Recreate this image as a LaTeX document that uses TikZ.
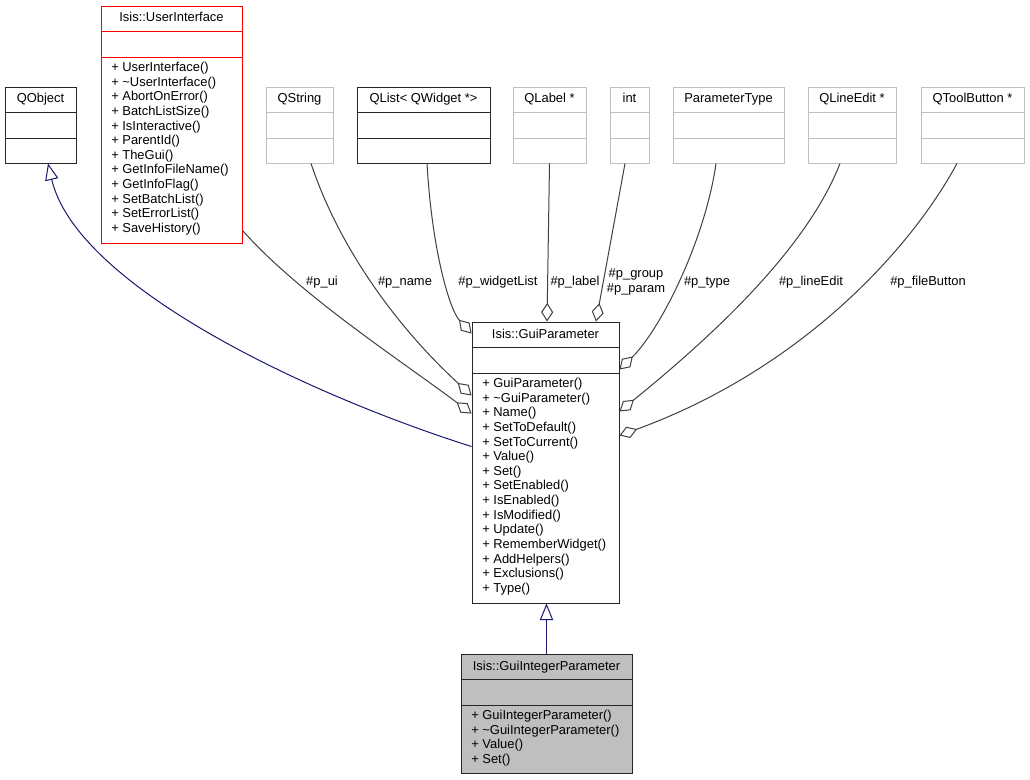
\documentclass[tikz,border=0pt]{standalone}
\usepackage{fontspec}
\setmainfont{Liberation Sans}
\usetikzlibrary{arrows.meta,calc,fit}

\definecolor{edgegray}{HTML}{404040}
\definecolor{boxgray}{HTML}{BFBFBF}
\definecolor{inhblue}{HTML}{191970}

% box of a class: name, style, left, top, right, bottom, title
\newcommand{\classbox}[7]{%
  \node[#2, inner sep=0pt, fit={(#3,#4) (#5,#6)}] (#1) {};
  \draw[#2] ({#3},{#4+25}) -- ({#5},{#4+25});
  \draw[#2] ({#3},{#4+51}) -- ({#5},{#4+51});
  \node[titletext] (#1-title) at ({(#3+#5)/2},{#4+16}) {#7};
}
% operations of a class: name, left, y of the lower line, list
\newcommand{\classops}[4]{%
  \foreach \op [count=\i] in {#4}
    \node[optext] (#1-op\i) at ({#2+10},{#3+14.5+(\i-1)*14.64}) {+ \op};
}

\begin{document}
\begin{tikzpicture}[x=0.75pt, y=-0.75pt,
    titletext/.style={anchor=base, inner sep=0pt, font=\fontsize{9.7}{11}\selectfont},
    optext/.style={anchor=base west, inner sep=0pt, font=\fontsize{9.7}{11}\selectfont},
    lbl/.style={inner sep=0pt, font=\fontsize{9.7}{11}\selectfont},
    boxblack/.style={draw=black!85, line width=0.7pt, fill=white},
    boxred/.style={draw=red, line width=0.7pt, fill=white},
    boxgrey/.style={draw=boxgray, line width=0.7pt, fill=white},
    boxfilled/.style={draw=black!85, line width=0.7pt, fill=boxgray},
    agg/.style={draw=edgegray, line width=0.75pt, -{Diamond[open, length=14pt, width=9pt]}},
    inherit/.style={draw=inhblue, line width=0.75pt, -{Triangle[open, length=12.5pt, width=10pt]}}]
  \fill[white] (0,0) rectangle (1030,780);
  \useasboundingbox (0,0) rectangle (1030,780);

  % top row
  \classbox{qobject}{boxblack}{5}{87}{76}{163}{QObject}
  \classbox{ui}{boxred}{101}{6}{242}{243}{Isis::UserInterface}
  \classops{ui}{101}{57}{UserInterface(), \textasciitilde UserInterface(), AbortOnError(),
    BatchListSize(), IsInteractive(), ParentId(), TheGui(), GetInfoFileName(),
    GetInfoFlag(), SetBatchList(), SetErrorList(), SaveHistory()}
  \classbox{qstring}{boxgrey}{266}{87}{333}{163}{QString}
  \classbox{qlist}{boxblack}{357}{87}{490}{163}{QList< QWidget *>}
  \classbox{qlabel}{boxgrey}{513}{87}{586}{163}{QLabel *}
  \classbox{int}{boxgrey}{610}{87}{649}{163}{int}
  \classbox{ptype}{boxgrey}{673}{87}{784}{163}{ParameterType}
  \classbox{lineedit}{boxgrey}{808}{87}{896}{163}{QLineEdit *}
  \classbox{toolbutton}{boxgrey}{921}{87}{1024}{163}{QToolButton *}

  % the parameter classes
  \classbox{gp}{boxblack}{472}{322}{619}{603}{Isis::GuiParameter}
  \classops{gp}{472}{373}{GuiParameter(), \textasciitilde GuiParameter(), Name(),
    SetToDefault(), SetToCurrent(), Value(), Set(), SetEnabled(), IsEnabled(),
    IsModified(), Update(), RememberWidget(), AddHelpers(), Exclusions(), Type()}
  \classbox{gi}{boxfilled}{461}{654}{632}{773}{Isis::GuiIntegerParameter}
  \classops{gi}{461}{705}{GuiIntegerParameter(), \textasciitilde GuiIntegerParameter(),
    Value(), Set()}

  % inheritance
  \draw[inherit] (gi.north) -- (gi.north |- gp.south);
  \draw[inherit] ($(gp.north west)+(0,125)$) .. controls +(-173,-55) and +(28,120) .. ($(qobject.south)+(7.5,0)$);

  % members
  \draw[agg] ($(ui.south east)+(0,-13)$) .. controls +(58,65) and +(-72,-54) .. ($(gp.north west)+(0,92)$);
  \draw[agg] ($(qstring.south)+(11.5,0)$) .. controls +(29,87) and +(-72,-66) .. ($(gp.north west)+(0,74)$);
  \draw[agg] ($(qlist.south)+(3.5,0)$) .. controls +(5,87) and +(-22,-24) .. ($(gp.north west)+(0,12)$);
  \draw[agg] (qlabel.south) -- ($(gp.north)+(1.5,0)$);
  \draw[agg] ($(int.south)+(-4.5,0)$) -- ($(gp.north)+(50.5,0)$);
  \draw[agg] ($(ptype.south)+(-12.5,0)$) .. controls +(-11,77) and +(41,-40) .. ($(gp.north east)+(0,48)$);
  \draw[agg] ($(lineedit.south)+(-12,0)$) .. controls +(-32,82) and +(101,-82) .. ($(gp.north east)+(0,90)$);
  \draw[agg] ($(toolbutton.south)+(-15.5,0)$) .. controls +(-47,87) and +(181,-66) .. ($(gp.north east)+(0,114)$);

  % member names
  \node[lbl, anchor=base] (l-ui) at (322,285.5) {\#p\_ui};
  \node[lbl, anchor=base] (l-name) at (405,285.5) {\#p\_name};
  \node[lbl, anchor=base] (l-widgetlist) at (498,285.5) {\#p\_widgetList};
  \node[lbl, anchor=base] (l-label) at (575,285.5) {\#p\_label};
  \node[lbl, align=center] (l-group) at (636,282) {\#p\_group\\\#p\_param};
  \node[lbl, anchor=base] (l-type) at (707,285.5) {\#p\_type};
  \node[lbl, anchor=base] (l-lineedit) at (811,285.5) {\#p\_lineEdit};
  \node[lbl, anchor=base] (l-filebutton) at (928,285.5) {\#p\_fileButton};
\end{tikzpicture}
\end{document}
